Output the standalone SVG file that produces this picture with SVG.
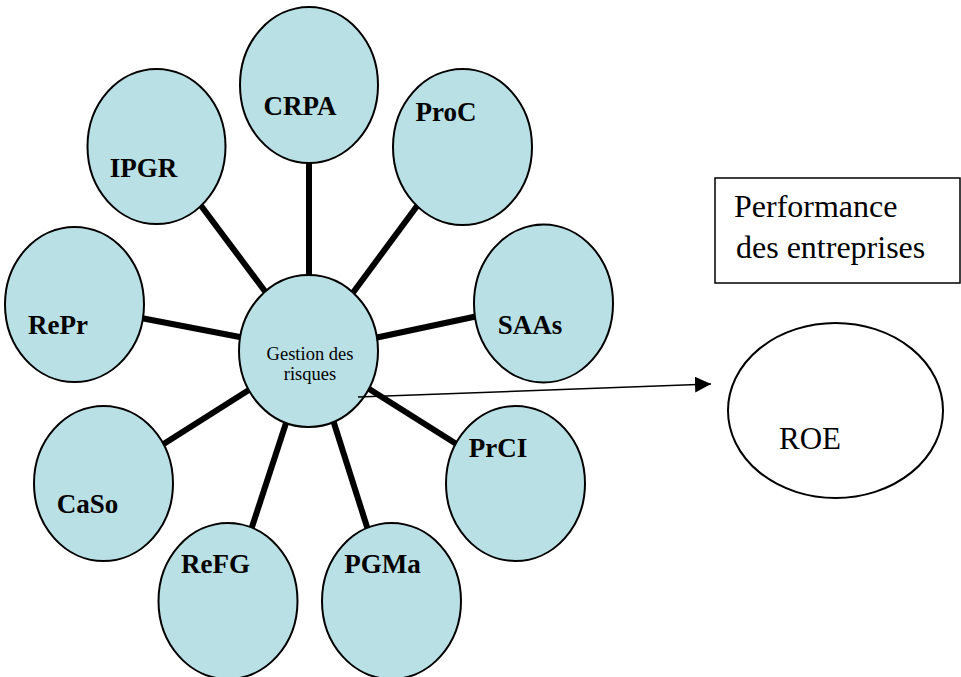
<svg xmlns="http://www.w3.org/2000/svg" width="961" height="677" viewBox="0 0 961 677">
<defs>
<style>
.node{fill:#B9E0E4;stroke:#000;stroke-width:2}
.lbl{font-family:"Liberation Serif","Times New Roman",serif;font-weight:bold;font-size:27px;fill:#000}
.reg{font-family:"Liberation Serif","Times New Roman",serif;fill:#000}
.conn{stroke:#000;stroke-width:6;stroke-linecap:butt}
</style>
<marker id="arr" markerWidth="16" markerHeight="16" refX="16" refY="8" orient="auto" markerUnits="userSpaceOnUse">
<path d="M0,0 L16,8 L0,16 Z" fill="#000"/>
</marker>
</defs>
<rect width="961" height="677" fill="#fff"/>
<g id="connectors">
<line class="conn" x1="309" y1="160" x2="309" y2="280"/>
<line class="conn" x1="199" y1="203" x2="267" y2="294"/>
<line class="conn" x1="420" y1="202" x2="352" y2="294"/>
<line class="conn" x1="478" y1="316" x2="370" y2="339"/>
<line class="conn" x1="141" y1="318" x2="245" y2="338"/>
<line class="conn" x1="162" y1="445" x2="252" y2="388"/>
<line class="conn" x1="251" y1="530" x2="287" y2="420"/>
<line class="conn" x1="368" y1="530" x2="333" y2="420"/>
<line class="conn" x1="458" y1="445" x2="366" y2="387"/>
</g>
<g id="node-crpa"><ellipse class="node" cx="309" cy="85" rx="69" ry="78"/><text class="lbl" x="300" y="115" text-anchor="middle">CRPA</text></g>
<g id="node-ipgr"><ellipse class="node" cx="156.5" cy="146.5" rx="69" ry="77.5"/><text class="lbl" x="143.5" y="177" text-anchor="middle">IPGR</text></g>
<g id="node-proc"><ellipse class="node" cx="462.5" cy="147" rx="69.5" ry="78"/><text class="lbl" x="446" y="121" text-anchor="middle">ProC</text></g>
<g id="node-saas"><ellipse class="node" cx="543.5" cy="303.5" rx="69.5" ry="79"/><text class="lbl" x="530" y="334" text-anchor="middle">SAAs</text></g>
<g id="node-repr"><ellipse class="node" cx="74.5" cy="304.5" rx="69.5" ry="77.5"/><text class="lbl" x="58" y="334" text-anchor="middle">RePr</text></g>
<g id="node-caso"><ellipse class="node" cx="103.5" cy="483.5" rx="69.5" ry="77.5"/><text class="lbl" x="87.5" y="513" text-anchor="middle">CaSo</text></g>
<g id="node-refg"><ellipse class="node" cx="228" cy="601" rx="69.5" ry="78"/><text class="lbl" x="215.5" y="573" text-anchor="middle">ReFG</text></g>
<g id="node-pgma"><ellipse class="node" cx="391.5" cy="601" rx="69.5" ry="78"/><text class="lbl" x="382.5" y="573" text-anchor="middle">PGMa</text></g>
<g id="node-prci"><ellipse class="node" cx="515.5" cy="483.5" rx="69.5" ry="77.5"/><text class="lbl" x="498" y="457" text-anchor="middle">PrCI</text></g>
<g id="node-gestion"><ellipse class="node" cx="308.5" cy="351" rx="69.5" ry="76"/><text class="reg" font-size="18.5" text-anchor="middle"><tspan x="310" y="360">Gestion des</tspan><tspan x="310" y="380">risques</tspan></text></g>
<g id="node-performance"><rect x="715" y="178" width="245" height="105" fill="#fff" stroke="#000" stroke-width="1.5"/><text class="reg" font-size="32"><tspan x="734" y="217">Performance</tspan><tspan x="736" y="258">des entreprises</tspan></text></g>
<g id="node-roe"><ellipse cx="835.5" cy="410.5" rx="107.5" ry="87.5" fill="#fff" stroke="#000" stroke-width="2"/><text class="reg" font-size="31" x="779" y="449">ROE</text></g>
<g id="arrow"><line x1="358" y1="397" x2="711" y2="384" stroke="#000" stroke-width="1.5" marker-end="url(#arr)"/></g>
</svg>
